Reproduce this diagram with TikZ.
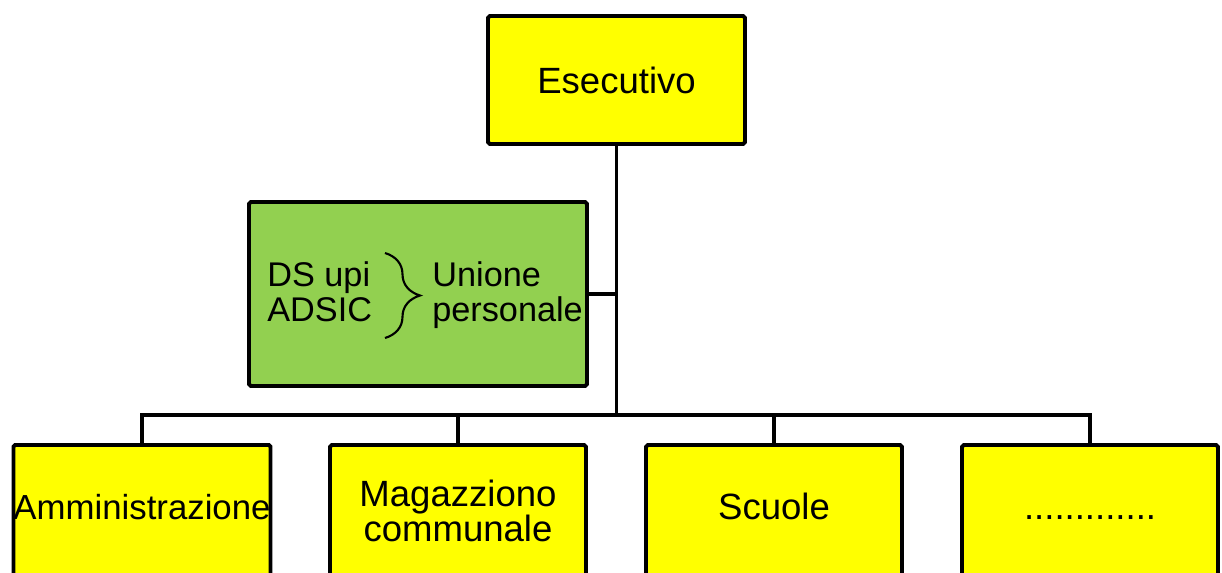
\documentclass[tikz,border=0pt]{standalone}
\usepackage{fontspec}
\setmainfont{Liberation Sans}
\usetikzlibrary{positioning,decorations.pathreplacing}
\definecolor{boxyellow}{RGB}{255,255,0}
\definecolor{boxgreen}{RGB}{146,208,80}

\begin{document}
\begin{tikzpicture}[x=0.02cm, y=-0.02cm,
  box/.style={draw=black, line width=2.2pt, rounded corners=1pt, fill=boxyellow,
    inner sep=0pt, align=center, font=\fontsize{20.8}{20.4}\selectfont},
  leaf/.style={box, minimum width=5.12cm, minimum height=2.64cm},
  oneline/.style={text height=14.9pt, text depth=4.7pt},
  link/.style={draw=black, line width=2pt}]
  \clip (0,0) rectangle (1222,572);

  % Top and staff boxes
  \node[box, minimum width=5.14cm, minimum height=2.56cm] (exec) at (616.5,80) {Esecutivo};
  \node[box, fill=boxgreen, minimum width=6.76cm, minimum height=3.68cm] (union) at (418,294) {};

  % Inside the green box
  \node[anchor=west, inner sep=0pt, align=left, font=\fontsize{19.5}{19.8}\selectfont] (members) at (267,292) {DS upi\\ADSIC};
  \node[anchor=west, inner sep=0pt, align=left, font=\fontsize{19.5}{19.8}\selectfont] (unionname) at (432,295.5) {Unione\\personale};
  \draw[line width=1.2pt, decorate, decoration={brace, amplitude=0.7cm}] (385,253) -- (385,338);

  % Departments
  \node[leaf, oneline, font=\fontsize{19.8}{20.4}\selectfont] (admin) at (142,511) {Amministrazione};
  \node[leaf] (store) at (458,511) {Magazziono\\communale};
  \node[leaf, oneline] (schools) at (774,511) {Scuole};
  \node[leaf, oneline] (more) at (1090,511) {.............};

  % Connectors
  \coordinate (bus) at (616.5,415);
  \draw[link] (exec.south) -- (bus);
  \draw[link] (union.east) -- (union.east -| exec.south);
  \draw[link] (admin.north) |- (bus) -| (more.north);
  \draw[link] (store.north) -- (store.north |- bus);
  \draw[link] (schools.north) -- (schools.north |- bus);
\end{tikzpicture}
\end{document}
